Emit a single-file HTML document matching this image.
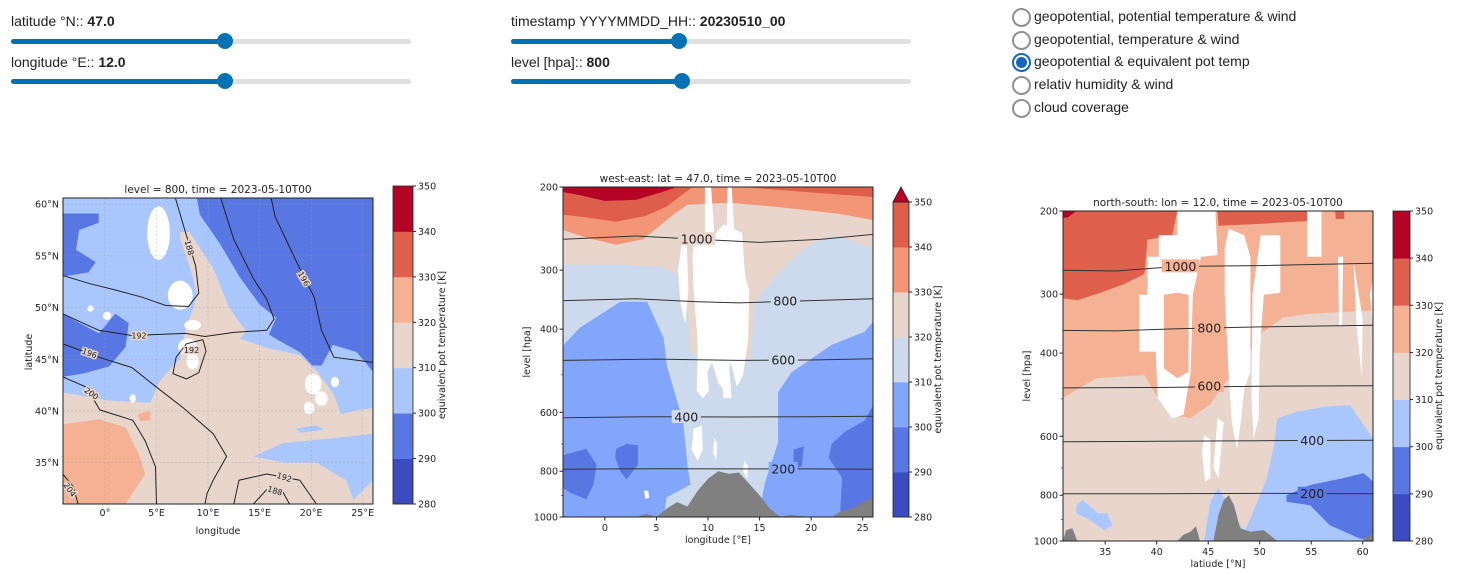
<!DOCTYPE html>
<html><head><meta charset="utf-8">
<style>
body{margin:0;width:1463px;height:575px;background:#fff;overflow:hidden;position:relative;font-family:"Liberation Sans",sans-serif}
.lbl{position:absolute;font-size:14px;color:#212121;white-space:nowrap}
.lbl b{font-weight:bold}
.track{position:absolute;height:5px;border-radius:3px;background:#e0e0e0}
.fill{position:absolute;left:0;top:0;height:5px;border-radius:3px;background:#0072b5}
.knob{position:absolute;width:16px;height:16px;border-radius:50%;background:#0072b5;top:-6px}
.radio{position:absolute;left:1012px;width:15px;height:15px;border:2px solid #8e8e99;border-radius:50%}
.radio.sel{border-color:#1565c0}
.radio.sel::after{content:"";position:absolute;left:2px;top:2px;width:11px;height:11px;border-radius:50%;background:#1565c0}
.rl{position:absolute;left:1034px;font-size:14px;color:#212121;white-space:nowrap}
svg text{font-family:"DejaVu Sans",sans-serif}
</style></head><body>
<div class="lbl" style="left:11px;top:13px">latitude °N:: <b>47.0</b></div>
<div class="track" style="left:11px;top:39px;width:400px"><div class="fill" style="width:214px"></div><div class="knob" style="left:206px"></div></div>
<div class="lbl" style="left:11px;top:54px">longitude °E:: <b>12.0</b></div>
<div class="track" style="left:11px;top:79px;width:400px"><div class="fill" style="width:214px"></div><div class="knob" style="left:206px"></div></div>
<div class="lbl" style="left:511px;top:13px">timestamp YYYYMMDD_HH:: <b>20230510_00</b></div>
<div class="track" style="left:511px;top:39px;width:400px"><div class="fill" style="width:168px"></div><div class="knob" style="left:160px"></div></div>
<div class="lbl" style="left:511px;top:54px">level [hpa]:: <b>800</b></div>
<div class="track" style="left:511px;top:79px;width:400px"><div class="fill" style="width:171px"></div><div class="knob" style="left:163px"></div></div>
<div class="radio" style="top:8px"></div><div class="rl" style="top:8px">geopotential, potential temperature &amp; wind</div>
<div class="radio" style="top:31px"></div><div class="rl" style="top:31px">geopotential, temperature &amp; wind</div>
<div class="radio sel" style="top:53px"></div><div class="rl" style="top:53px">geopotential &amp; equivalent pot temp</div>
<div class="radio" style="top:76px"></div><div class="rl" style="top:76px">relativ humidity &amp; wind</div>
<div class="radio" style="top:99px"></div><div class="rl" style="top:99px">cloud coverage</div>

<svg id="sv" width="1463" height="575" style="position:absolute;left:0;top:0">
<defs>
<clipPath id="cmap"><rect x="63" y="198" width="310" height="306"/></clipPath>
<clipPath id="cwe"><rect x="563" y="187" width="310" height="330"/></clipPath>
<clipPath id="cns"><rect x="1063" y="211" width="310" height="330"/></clipPath>
</defs>
</svg>
<script>
// ---------- data ----------
const cbLevels=[280,290,300,310,320,330,340,350];
const cbColorsA=["#3b4cc0","#5977e3","#aac7fd","#e8d6cc","#f5b194","#de604d","#b40426"];
const cbColorsB=["#3b4cc0","#5977e3","#82a6fb","#cdd9ec","#e8d6cc","#f39577","#dc5e4b"];
const mapXTicks=[0,5,10,15,20,25];
const mapXTickLabels=["0°","5°E","10°E","15°E","20°E","25°E"];
const mapYTicks=[35,40,45,50,55,60];
const mapYTickLabels=["35°N","40°N","45°N","50°N","55°N","60°N"];
const pTicks=[200,300,400,600,800,1000];
const pMinor=[500,700,900];
const weXTicks=[0,5,10,15,20,25];
const nsXTicks=[35,40,45,50,55,60];

// map fills [lon,lat]
const mapLightBlue=[[-4.1,60.7],[26,60.7],[26,40.3],[24.1,40],[22.9,39.7],[22.2,41.6],[20.6,43.8],[18.9,45.4],[15.7,46.1],[13.1,47],[13.7,47.7],[12.1,49.9],[10.5,53.8],[8.2,57.3],[7.3,57.3],[7.3,56.6],[8.2,54.1],[8.9,51.5],[8.6,49.9],[7.9,48.3],[7.3,45.1],[5.3,42.9],[4.4,40.8],[0.4,41],[-4.1,41.8]];
const mapDarkNE=[[8.9,60.7],[26,60.7],[26,43.8],[24.4,45.7],[22.1,46.4],[21,44.4],[20.1,44.4],[18.9,45.7],[16.9,46.8],[15.9,47.4],[16.6,49],[15,50.3],[13.1,52.9],[11.2,56.1],[9.2,59]];
const mapDarkNW=[[-4.1,59.1],[-0.6,59.1],[-0.6,58.2],[-2.5,57.5],[-2.8,55.6],[-0.9,54.4],[-1.6,53.4],[-4.1,53]];
const mapDarkW=[[-4.1,49.4],[-0.6,47.5],[1,49.4],[2.3,48.5],[2,46.2],[0.4,44.3],[-2.2,43.6],[-4.1,43.3]];
const mapBlueSE=[[14.4,35.6],[17.3,36.9],[20.5,37.2],[23.4,37.5],[26,37.8],[26,33.3],[24.1,31.4],[23.4,33.3],[20.5,35],[17.3,35]];
const mapBlueGreece=[[18.5,38.3],[20.5,38.6],[21.2,38.2],[19,37.9]];
const mapSalmon=[[-4.1,38.7],[-0.6,39.2],[2,38.4],[3.3,35.8],[3.9,33.9],[2,31],[-4.1,31]];
const mapSalmonPatch=[[3.2,39.7],[4.4,40],[4.4,39.1],[3.4,39]];
const mapWhiteSpots=[[5.2,57.2,1.1,2.6],[7.3,51.2,1.2,1.4],[8.5,48.3,0.8,0.5],[8,46.2,0.9,0.8],[8.5,44.8,0.6,0.8],[20.2,42.6,0.8,1],[21,41.2,0.6,0.7],[19.8,40.3,0.5,0.6],[22.3,42.8,0.4,0.5],[0.2,49.2,0.4,0.4],[-1.4,49.9,0.3,0.3],[2.7,41.2,0.3,0.4]];
// map contours
const c188N=[[-4.1,53.1],[-1.4,52.3],[1,51.7],[3.6,51],[5.9,50.2],[8.1,50.1],[9.1,51.4],[8.8,54],[7.8,57.3],[6.8,60.7]];
const c192N=[[-4.1,49.4],[-0.6,47.8],[2.6,47.3],[7.8,47.5],[9.7,47.2],[12.5,47.6],[15.7,47.8],[16.4,48.9],[15.7,50.8],[14.4,52.8],[12.5,56.6],[11.2,60.7]];
const c192Loop=[[9.5,46.9],[7.9,46.5],[6.9,45.2],[6.6,43.6],[7.9,43.1],[9.1,43.7],[9.8,45.8],[9.5,46.9]];
const c196W=[[-4.1,46.5],[-0.6,45.2],[2.6,44.2],[5,42.3],[7.6,40.3],[10.5,37.8],[11.8,35.6],[10.5,33.3],[9.9,32],[9.7,31]];
const c196E=[[16.1,60.7],[16.5,58.8],[18.7,54.2],[20.3,51],[21,47.8],[22.2,45.2],[26,44.7]];
const c200=[[-4.1,43.3],[-1.8,42.3],[-0.5,40.1],[2.7,39.1],[3.9,37.1],[4.9,34.6],[5,31]];
const c204=[[-4.1,33.9],[-3.1,32.7],[-2.6,31]];
const c192S=[[12.5,31],[13,33.3],[15.7,33.9],[18.9,33.3],[20.5,31]];
const c188S=[[14.4,31],[15.7,32.4],[17.3,32.1],[17.9,31]];
const mapLabels=[["188",8.2,55.8,75],["192",3.3,47.3,0],["192",8.4,45.9,0],["196",-1.5,45.6,20],["200",-1.3,41.7,35],["196",19.3,52.8,60],["192",17.4,33.6,18],["188",16.5,32.3,18],["204",-3.4,32.4,55]];

// west-east fills [lon,p]
const weGrey=[[-4,200],[26,200],[26,386],[25.2,405],[22,432],[18.1,494],[16.8,544],[16.8,694],[15.5,850],[14.9,1000],[5.7,1000],[6,909],[8.3,854],[8,775],[7.6,630],[6,476],[5.7,418],[4.1,350],[1.5,350],[-2.4,397],[-4,432]];
const weBeige=[[-4,200],[26,200],[26,270],[22.5,254],[20.9,258],[19.3,270],[17.7,292],[15.7,325],[14.5,353],[14.1,461],[12.8,470],[9.3,465],[8.3,447],[8,361],[7.1,307],[5.5,295],[1.5,292],[-4,292]];
const weSalmon=[[-4,200],[26,200],[26,235],[22.8,228],[16.3,220],[12,216],[8,218],[6.5,230],[5,245],[3.7,258],[1.1,265],[-1.8,256],[-4,247]];
const weRedL=[[-4,200],[8.5,200],[6,220],[4,230],[1.1,237],[-1.8,232],[-4,229]];
const weRedR=[[14,200],[26,200],[26,210],[20.9,206],[14.5,201]];
const weDark=[[-4,200],[7,200],[5.5,205],[3,213],[0,214],[-2.5,208],[-4,205]];
const weBlueL=[[-4,739],[-1.8,717],[-0.8,775],[-1.1,854],[-1.8,917],[-3.3,890],[-4,870]];
const weBlueP=[[1.1,717],[2.1,700],[3.2,705],[3.2,775],[2.1,833],[1.5,800],[1,748]];
const weBlueR=[[22,700],[23.3,659],[25.2,625],[26,580],[26,1000],[22.8,1000],[23,826],[21.7,750]];
const weBlueP2=[[18.3,720],[19.3,708],[19.1,780],[18.3,795],[16.7,795],[18.3,775]];
const weWhite=[
 [[9.7,200],[10.3,200],[10.6,250],[10.5,310],[10.2,420],[9.8,355],[9.5,310],[9.7,250]],
 [[11.9,200],[12.3,200],[12.6,260],[12.2,300],[11.8,260]],
 [[8.7,250],[9.5,255],[10.8,250],[11.5,240],[13.3,250],[13.6,310],[14,330],[13.9,420],[13.4,500],[12.8,530],[12.2,470],[11.6,540],[11,520],[10.4,470],[9.8,500],[9.1,480],[8.9,400],[8.6,330],[8.5,280]],
 [[7.5,260],[7.9,250],[8.1,330],[7.8,390],[7.3,350],[7.1,300]],
 [[8.6,650],[9.4,640],[9.5,720],[9,760],[8.4,720]],
 [[10.6,680],[10.9,700],[10.8,760],[10.5,730]],
 [[9,450],[9.8,460],[10.1,540],[9.5,560],[8.9,540]],
 [[11.2,460],[12,470],[12.3,560],[11.5,560]],
 [[13.5,760],[13.9,780],[13.8,830],[13.4,800]],
 [[3.8,880],[4.2,880],[4.3,910],[3.9,915]]];
const weTerrain=[[-4,1000],[3,1000],[4,985],[5,1000],[6,960],[7,930],[8,950],[9,880],[10,830],[11,800],[12,810],[13,805],[14,850],[15,900],[16,960],[17,1000],[18,990],[20,1000],[22,1000],[23,970],[24,960],[25,930],[26,910],[26,1000]];
const weLines=[[[-4,258],[3,254],[9,258],[15,262],[21,258],[26,252]],[[-4,348],[3,345],[9,350],[13,352],[20,348],[26,345]],[[-4,466],[5,463],[13,466],[20,465],[26,462]],[[-4,616],[5,613],[13,614],[20,613],[26,612]],[[-4,792],[5,790],[13,791],[20,791],[26,792]]];
const weLabelText=["1000","800","600","400","200"];
const weLabelPos=[[8.9,258],[17.5,349],[17.3,465],[7.9,614],[17.3,791]];
const weLabelBg=["#e8d6cc","#cdd9ec","#cdd9ec","#cdd9ec","#82a6fb"];

// north-south fills [lat,p]
const nsSalmon=[[30.9,200],[61,200],[61,325],[57.5,328],[54.9,330],[52.3,336],[50.4,360],[48.5,411],[46.5,467],[45.2,513],[43.3,549],[41.4,540],[40.1,498],[38.8,445],[34.1,452],[30.9,498]];
const nsRed=[[30.9,200],[42,200],[41.5,225],[39.1,230],[38.8,272],[36.8,286],[34.3,299],[32.3,309],[30.9,306]];
const nsRedTop=[[45.9,200],[54.6,200],[54.6,210],[50,213],[46,215]];
const nsRedTop2=[[57.3,200],[58.2,200],[58.2,208],[57.4,208]];
const nsDark=[[30.9,200],[32.2,200],[31.4,206],[30.9,207]];
const nsBlue=[[44.6,1000],[45.2,826],[46,772],[46.7,819],[48.5,956],[49.1,896],[50.7,736],[51.4,626],[51.7,550],[53.6,532],[56.5,519],[58.8,516],[60.1,568],[61,606],[61,1000]];
const nsBlueDark=[[52.6,800],[54.9,761],[58.1,736],[60.1,718],[61,748],[61,1000],[59.7,988],[56.8,926],[54.9,840],[52.6,826]];
const nsBlueL=[[32.2,840],[32.8,818],[34.3,874],[35.2,874],[35.7,926],[34.9,948],[33.3,896],[32.2,874]];
const nsWhite=[
 [[40.2,225],[42,225],[42,200],[45.7,200],[45.9,248],[44.3,250],[43.5,301],[43.3,438],[42.6,540],[41.5,550],[40.1,498],[39.9,397],[38.3,397],[38.3,301],[39.1,301],[39.1,250],[40.2,250]],
 [[47,218],[48.5,225],[49.1,250],[49.1,438],[48.5,475],[48.2,550],[47.8,640],[47.3,560],[47,450],[46.6,300],[46.6,240]],
 [[50.1,225],[52,225],[52,298],[50.4,301],[50,400],[49.9,550],[49.4,606],[49.2,500],[49.3,300]],
 [[44.6,597],[45.2,609],[45.2,736],[44.7,748],[44.4,647]],
 [[45.9,550],[46.5,560],[46,736],[45.5,700]],
 [[54.6,200],[56,200],[56,250],[54.6,250]],
 [[57.6,250],[58.1,250],[58,349],[57.7,349]],
 [[59.1,255],[60,338],[59.9,448],[59.4,349]],
 [[60.7,300],[61,280],[61,350]]];
const nsSalmonIn=[[40.7,301],[42,298],[43.1,301],[43.1,438],[42,452],[40.7,431]];
const nsTerrain=[[30.9,1000],[31.2,948],[31.8,940],[32.3,1000],[42,1000],[42.6,970],[43.3,955],[43.8,931],[44.2,1000],[45.5,1000],[46,880],[46.5,819],[47,800],[47.5,840],[48.1,940],[49.1,956],[50.4,948],[51.4,988],[51.7,1000],[60.1,1000],[60.1,988],[61,964],[61,1000]];
const nsLines=[[[30.9,267],[36,268],[42,262],[50,261],[61,258]],[[30.9,358],[36,359],[42,355],[50,352],[61,349]],[[30.9,474],[40,473],[50,470],[61,469]],[[30.9,616],[40,615],[50,613],[61,612]],[[30.9,794],[40,794],[50,793],[61,794]]];
const nsLabelText=["1000","800","600","400","200"];
const nsLabelPos=[[42.3,262],[45.1,354],[45.1,470],[55.1,613],[55.1,794]];
const nsLabelBg=["#f5b194","#f5b194","#f5b194","#aac7fd","#5977e3"];

// ---------- drawing ----------
const NS="http://www.w3.org/2000/svg";
const svg=document.getElementById('sv');
function mk(tag,attrs,parent){const e=document.createElementNS(NS,tag);for(const k in attrs)e.setAttribute(k,attrs[k]);(parent||svg).appendChild(e);return e;}
const MAP={x0:63,x1:373,y0:198,y1:504,a:-4.07,b:26,c:31,d:60.6};
const WE={x0:563,x1:873,y0:187,y1:517,a:-4.06,b:26};
const NSP={x0:1063,x1:1373,y0:211,y1:541,a:30.9,b:61};
const mx=v=>MAP.x0+(v-MAP.a)/(MAP.b-MAP.a)*(MAP.x1-MAP.x0);
const my=v=>MAP.y1-(v-MAP.c)/(MAP.d-MAP.c)*(MAP.y1-MAP.y0);
const wx=v=>WE.x0+(v-WE.a)/(WE.b-WE.a)*(WE.x1-WE.x0);
const wy=p=>WE.y0+Math.log(p/200)/Math.log(5)*(WE.y1-WE.y0);
const nx=v=>NSP.x0+(v-NSP.a)/(NSP.b-NSP.a)*(NSP.x1-NSP.x0);
const ny=p=>NSP.y0+Math.log(p/200)/Math.log(5)*(NSP.y1-NSP.y0);
function pathD(pts,fx,fy,close){return pts.map((q,i)=>(i?'L':'M')+fx(q[0]).toFixed(1)+' '+fy(q[1]).toFixed(1)).join('')+(close?'Z':'');}
function poly(g,pts,fx,fy,fill,name){const e=mk('path',{d:pathD(pts,fx,fy,true),fill:fill},g);return e;}
function line(g,pts,fx,fy,name,col,w){const e=mk('path',{d:pathD(pts,fx,fy,false),fill:'none',stroke:col||'#222',"stroke-width":w||1.1},g);return e;}
function txt(x,y,s,o){const e=mk('text',Object.assign({x:x,y:y,"font-size":10,fill:'#222'},o||{}));e.textContent=s;return e;}

// ---- MAP panel
const gm=mk('g',{"clip-path":"url(#cmap)"});
mk('rect',{x:63,y:198,width:310,height:306,fill:"#e8d6cc"},gm);
poly(gm,mapLightBlue,mx,my,"#aac7fd","map-fill-300-310");
poly(gm,mapDarkNE,mx,my,"#5977e3","map-fill-290-300-northeast");
poly(gm,mapDarkNW,mx,my,"#5977e3","map-fill-290-300-northwest");
poly(gm,mapDarkW,mx,my,"#5977e3","map-fill-290-300-west");
poly(gm,mapBlueSE,mx,my,"#aac7fd","map-fill-300-310-southeast");
poly(gm,mapBlueGreece,mx,my,"#aac7fd","map-fill-300-310-greece");
poly(gm,mapSalmon,mx,my,"#f5b194","map-fill-320-330");
poly(gm,mapSalmonPatch,mx,my,"#f5b194","map-fill-320-330-patch");
mapWhiteSpots.forEach(s=>{const e=mk('ellipse',{cx:mx(s[0]),cy:my(s[1]),rx:s[2]*10.3,ry:s[3]*10.3,fill:'#fff'},gm);});
mapXTicks.forEach(v=>mk('line',{x1:mx(v),x2:mx(v),y1:198,y2:504,stroke:'#999',"stroke-width":0.5,"stroke-dasharray":"2,2",opacity:0.6},gm));
mapYTicks.forEach(v=>mk('line',{x1:63,x2:373,y1:my(v),y2:my(v),stroke:'#999',"stroke-width":0.5,"stroke-dasharray":"2,2",opacity:0.6},gm));
[[c188N,'contour-188-north'],[c192N,'contour-192-north'],[c192Loop,'contour-192-loop'],[c196W,'contour-196-west'],[c196E,'contour-196-east'],[c200,'contour-200'],[c204,'contour-204'],[c192S,'contour-192-south'],[c188S,'contour-188-south']].forEach(a=>line(gm,a[0],mx,my,a[1],'#222',1));
mapLabels.forEach(l=>{const x=mx(l[1]),y=my(l[2]);const e=txt(x,y+3,l[0],{"font-size":8,"text-anchor":"middle",transform:`rotate(${l[3]} ${x} ${y})`,stroke:'#e8d6cc',"stroke-width":3,"paint-order":"stroke"});});
mk('rect',{x:63,y:198,width:310,height:306,fill:'none',stroke:'#222',"stroke-width":1});
mapXTicks.forEach((v,i)=>{const t=txt(mx(v),516,mapXTickLabels[i],{"text-anchor":"middle","font-size":9.5});});
mapYTicks.forEach((v,i)=>{const t=txt(59,my(v)+3.5,mapYTickLabels[i],{"text-anchor":"end","font-size":9.5});});
txt(218,193,"level = 800, time = 2023-05-10T00",{"text-anchor":"middle","font-size":10.5});
txt(218,534,"longitude",{"text-anchor":"middle","font-size":9.5});
txt(0,0,"latitude",{"text-anchor":"middle","font-size":9.5,transform:"translate(32,352) rotate(-90)"});

// ---- colorbars
function colorbar(x,yTop,yBot,w,colors,ext,name){
 const g=mk('g',{});
 const n=colors.length,h=(yBot-yTop)/n;
 colors.forEach((c,i)=>mk('rect',{x:x,y:yBot-(i+1)*h,width:w,height:h+0.4,fill:c},g));
 if(ext){mk('path',{d:`M${x} ${yTop}L${x+w/2} ${yTop-15}L${x+w} ${yTop}Z`,fill:'#b40426',stroke:'#222',"stroke-width":0.8},g);}
 mk('rect',{x:x,y:yTop,width:w,height:yBot-yTop,fill:'none',stroke:'#222',"stroke-width":0.8},g);
 cbLevels.forEach((v,i)=>{const y=yBot-i*h;mk('line',{x1:x+w,x2:x+w+3,y1:y,y2:y,stroke:'#222'},g);const t=txt(x+w+5,y+3.5,String(v),{"font-size":9.5});g.appendChild(t);});
 const t=txt(0,0,"equivalent pot temperature [K]",{"text-anchor":"middle","font-size":9.5,transform:`translate(${x+w+32},${(yTop+yBot)/2}) rotate(-90)`});g.appendChild(t);
}
colorbar(393,186,504,20,cbColorsA,false,'map-colorbar');
colorbar(893,202,517,16,cbColorsB,true,'west-east-colorbar');
colorbar(1393,211,541,17,cbColorsA,false,'north-south-colorbar');

// ---- cross-section axes helper
function axes(P,fx,fy,xt,title,xtitle,name,cx){
 mk('rect',{x:P.x0,y:P.y0,width:P.x1-P.x0,height:P.y1-P.y0,fill:'none',stroke:'#222',"stroke-width":1});
 xt.forEach(v=>{mk('line',{x1:fx(v),x2:fx(v),y1:P.y1,y2:P.y1+3.5,stroke:'#222'});const t=txt(fx(v),P.y1+14,String(v),{"text-anchor":"middle","font-size":9.5});});
 pTicks.forEach(v=>{mk('line',{x1:P.x0-3.5,x2:P.x0,y1:fy(v),y2:fy(v),stroke:'#222'});const t=txt(P.x0-5,fy(v)+3.5,String(v),{"text-anchor":"end","font-size":9.5});});
 pMinor.forEach(v=>mk('line',{x1:P.x0-2,x2:P.x0,y1:fy(v),y2:fy(v),stroke:'#222',"stroke-width":0.6}));
 txt(cx,P.y0-5,title,{"text-anchor":"middle","font-size":10.5});
 txt(cx,P.y1+26,xtitle,{"text-anchor":"middle","font-size":9.5});
 txt(0,0,"level [hpa]",{"text-anchor":"middle","font-size":9.5,transform:`translate(${P.x0-33},${(P.y0+P.y1)/2}) rotate(-90)`});
}
function contourSet(g,lines,texts,pos,bgs,fx,fy,name){
 lines.forEach((l,i)=>line(g,l,fx,fy,name+'-contour-'+texts[i],'#333',1));
 texts.forEach((s,i)=>{const x=fx(pos[i][0]),y=fy(pos[i][1]);mk('rect',{x:x-s.length*4.2-2,y:y-7,width:s.length*8.4+4,height:13,fill:bgs[i]},g);const t=txt(x,y+4.5,s,{"text-anchor":"middle","font-size":12.5});g.appendChild(t);});
}

// ---- west-east
const gw=mk('g',{"clip-path":"url(#cwe)"});
mk('rect',{x:563,y:187,width:310,height:330,fill:"#82a6fb"},gw);
poly(gw,weGrey,wx,wy,"#cdd9ec","we-fill-310-320");
poly(gw,weBeige,wx,wy,"#e8d6cc","we-fill-320-330");
poly(gw,weSalmon,wx,wy,"#f39577","we-fill-330-340");
poly(gw,weRedL,wx,wy,"#dc5e4b","we-fill-340-350-west");
poly(gw,weRedR,wx,wy,"#dc5e4b","we-fill-340-350-east");
poly(gw,weDark,wx,wy,"#b40426","we-fill-above-350");
poly(gw,weBlueL,wx,wy,"#5977e3","we-fill-290-300-west");
poly(gw,weBlueP,wx,wy,"#5977e3","we-fill-290-300-patch");
poly(gw,weBlueR,wx,wy,"#5977e3","we-fill-290-300-east");
poly(gw,weBlueP2,wx,wy,"#5977e3","we-fill-290-300-patch2");
weWhite.forEach(w=>poly(gw,w,wx,wy,"#fff","we-missing-data"));
poly(gw,weTerrain,wx,wy,"#808080","we-terrain");
contourSet(gw,weLines,weLabelText,weLabelPos,weLabelBg,wx,wy,'we');
axes(WE,wx,wy,weXTicks,"west-east: lat = 47.0, time = 2023-05-10T00","longitude [°E]",'we',718);

// ---- north-south
const gn=mk('g',{"clip-path":"url(#cns)"});
mk('rect',{x:1063,y:211,width:310,height:330,fill:"#e8d6cc"},gn);
poly(gn,nsSalmon,nx,ny,"#f5b194","ns-fill-320-330");
poly(gn,nsRed,nx,ny,"#de604d","ns-fill-330-340");
poly(gn,nsRedTop,nx,ny,"#de604d","ns-fill-330-340-top");
poly(gn,nsRedTop2,nx,ny,"#de604d","ns-fill-330-340-top2");
poly(gn,nsDark,nx,ny,"#b40426","ns-fill-340-350");
poly(gn,nsBlue,nx,ny,"#aac7fd","ns-fill-300-310");
poly(gn,nsBlueDark,nx,ny,"#5977e3","ns-fill-290-300");
poly(gn,nsBlueL,nx,ny,"#aac7fd","ns-fill-300-310-south");
nsWhite.forEach(w=>poly(gn,w,nx,ny,"#fff","ns-missing-data"));
poly(gn,nsSalmonIn,nx,ny,"#f5b194","ns-fill-320-330-inner");
poly(gn,nsTerrain,nx,ny,"#808080","ns-terrain");
contourSet(gn,nsLines,nsLabelText,nsLabelPos,nsLabelBg,nx,ny,'ns');
axes(NSP,nx,ny,nsXTicks,"north-south: lon = 12.0, time = 2023-05-10T00","latiude [°N]",'ns',1218);
</script>
</body></html>
